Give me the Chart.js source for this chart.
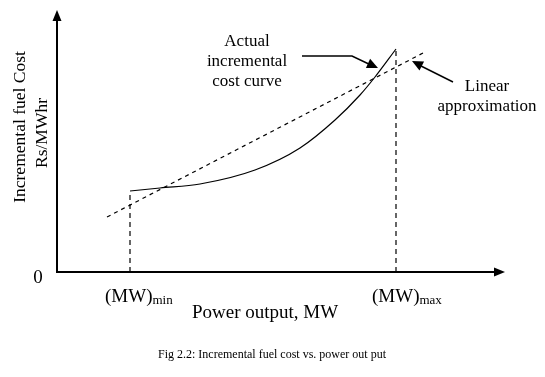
<!DOCTYPE html>
<html>
<head>
<meta charset="utf-8">
<script src="https://cdn.jsdelivr.net/npm/chart.js@4.4.1/dist/chart.umd.min.js"></script>
<style>
  body { margin: 0; background: #fff; }
  canvas { display: block; }
</style>
</head>
<body>
<canvas id="myChart" width="545" height="377"></canvas>
<script>
// power output (arbitrary MW units) and incremental cost (arbitrary Rs/MWhr units)
var powerMW = [73, 103, 143, 198, 243, 278, 303, 318, 339];
var actualCost = [81, 84, 88, 102, 124, 152, 177, 195, 223];
var linearMW = [50, 368];
var linearCost = [55, 220];
var mwMin = 73;
var mwMax = 339;

var serif = "'Liberation Serif', 'Times New Roman', serif";

function pts(xs, ys) {
    var out = [];
    for (var i = 0; i < xs.length; i++) {
        out.push({ x: xs[i], y: ys[i] });
    }
    return out;
}

function arrowHead(ctx, fx, fy, tx, ty, len, half) {
    var a = Math.atan2(ty - fy, tx - fx);
    ctx.beginPath();
    ctx.moveTo(tx, ty);
    ctx.lineTo(tx - len * Math.cos(a) + half * Math.sin(a), ty - len * Math.sin(a) - half * Math.cos(a));
    ctx.lineTo(tx - len * Math.cos(a) - half * Math.sin(a), ty - len * Math.sin(a) + half * Math.cos(a));
    ctx.closePath();
    ctx.fill();
}

// axes, labels and the two callouts
var sketchPlugin = {
    id: 'sketch',
    afterDraw: function(chart) {
        var ctx = chart.ctx;
        var ca = chart.chartArea;
        var xs = chart.scales.x, ys = chart.scales.y;
        var X = function(v) { return xs.getPixelForValue(v); };
        var Y = function(v) { return ys.getPixelForValue(v); };
        ctx.save();
        ctx.strokeStyle = '#000';
        ctx.fillStyle = '#000';

        // axes
        ctx.lineWidth = 2;
        ctx.beginPath();
        ctx.moveTo(ca.left, ca.top + 8);
        ctx.lineTo(ca.left, ca.bottom);
        ctx.lineTo(ca.right - 8, ca.bottom);
        ctx.stroke();
        arrowHead(ctx, ca.left, ca.bottom, ca.left, ca.top, 11, 4.5);
        arrowHead(ctx, ca.left, ca.bottom, ca.right, ca.bottom, 11, 4.5);

        // callout arrows
        ctx.lineWidth = 1.5;
        ctx.beginPath();
        ctx.moveTo(X(245), Y(216));
        ctx.lineTo(X(295), Y(216));
        ctx.lineTo(X(316), Y(206));
        ctx.stroke();
        arrowHead(ctx, X(295), Y(216), X(321), Y(204), 11, 5);

        ctx.beginPath();
        ctx.moveTo(X(396), Y(190));
        ctx.lineTo(X(360), Y(208));
        ctx.stroke();
        arrowHead(ctx, X(396), Y(190), X(355), Y(211), 11, 5);

        // texts
        ctx.textAlign = 'center';
        ctx.textBaseline = 'middle';
        ctx.font = '17px ' + serif;
        ctx.fillText('Actual', 247, 42);
        ctx.fillText('incremental', 247, 62);
        ctx.fillText('cost curve', 247, 82);
        ctx.fillText('Linear', 487, 87);
        ctx.fillText('approximation', 487, 107);

        ctx.font = '19px ' + serif;
        ctx.fillText('0', 38, 278);
        ctx.fillText('Power output, MW', 265, 313);

        // (MW)min / (MW)max
        ctx.textAlign = 'left';
        ctx.textBaseline = 'alphabetic';
        ctx.font = '19px ' + serif;
        ctx.fillText('(MW)', 105, 302);
        var w = ctx.measureText('(MW)').width;
        ctx.font = '13px ' + serif;
        ctx.fillText('min', 105 + w, 304);
        ctx.font = '19px ' + serif;
        ctx.fillText('(MW)', 372, 302);
        ctx.font = '13px ' + serif;
        ctx.fillText('max', 372 + w, 304);

        // caption
        ctx.textAlign = 'center';
        ctx.textBaseline = 'middle';
        ctx.font = '12px ' + serif;
        ctx.fillText('Fig 2.2: Incremental fuel cost vs. power out put', 272, 355);

        // y axis title
        ctx.font = '17.5px ' + serif;
        ctx.translate(20, 127);
        ctx.rotate(-Math.PI / 2);
        ctx.fillText('Incremental fuel Cost', 0, 0);
        ctx.rotate(Math.PI / 2);
        ctx.translate(22, 6);
        ctx.rotate(-Math.PI / 2);
        ctx.fillText('Rs/MWhr', 0, 0);
        ctx.restore();
    }
};

var ctx = document.getElementById('myChart').getContext('2d');
var myChart = new Chart(ctx, {
    type: 'scatter',
    data: {
        datasets: [
            {
                label: 'Actual incremental cost curve',
                data: pts(powerMW, actualCost),
                showLine: true,
                borderColor: '#000',
                borderWidth: 1.2,
                pointRadius: 0,
                cubicInterpolationMode: 'monotone'
            },
            {
                label: 'Linear approximation',
                data: pts(linearMW, linearCost),
                showLine: true,
                borderColor: '#000',
                borderWidth: 1.2,
                borderDash: [4, 4],
                pointRadius: 0
            },
            {
                label: 'min',
                data: [{ x: mwMin, y: 0 }, { x: mwMin, y: actualCost[0] }],
                showLine: true,
                borderColor: '#000',
                borderWidth: 1.2,
                borderDash: [5, 4],
                pointRadius: 0
            },
            {
                label: 'max',
                data: [{ x: mwMax, y: 0 }, { x: mwMax, y: actualCost[actualCost.length - 1] }],
                showLine: true,
                borderColor: '#000',
                borderWidth: 1.2,
                borderDash: [5, 4],
                pointRadius: 0
            }
        ]
    },
    options: {
        responsive: false,
        animation: false,
        layout: { padding: { left: 57, top: 10, right: 40, bottom: 105 } },
        plugins: { legend: { display: false }, tooltip: { enabled: false } },
        scales: {
            x: { type: 'linear', min: 0, max: 448, display: false },
            y: { type: 'linear', min: 0, max: 262, display: false }
        }
    },
    plugins: [sketchPlugin]
});
</script>
</body>
</html>
